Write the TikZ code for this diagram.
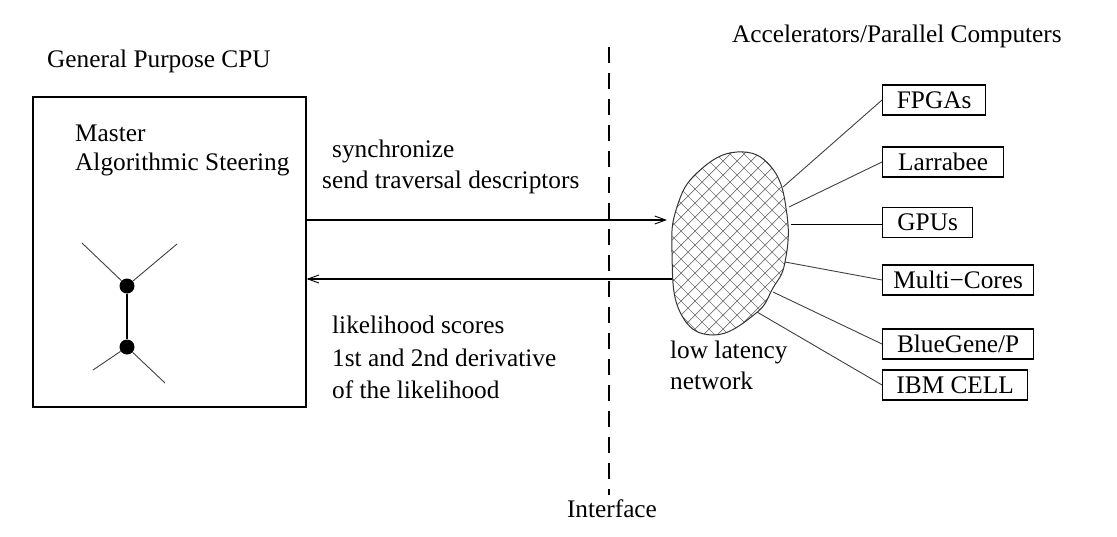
\documentclass[tikz,border=0pt]{standalone}
\usepackage{fontspec}
\setmainfont{Liberation Serif}
\usetikzlibrary{arrows.meta}
\begin{document}
\begin{tikzpicture}[x=1pt,y=-1pt,
  txt/.style={anchor=base west,inner sep=0pt,font=\fontsize{25.3}{30}\selectfont},
  dev/.style={draw,line width=1.3pt,anchor=west,minimum height=30pt,inner sep=0pt,font=\fontsize{25.3}{30}\selectfont},
  conn/.style={line width=0.9pt,draw=black!75},
  arr/.style={line width=1.1pt,-{Straight Barb[length=11pt,width=8pt,line width=0.9pt]}},
  dot/.style={circle,fill=black,inner sep=0pt,minimum size=15pt},
  hatch/.style={line width=0.7pt,draw=black!55}]
\useasboundingbox (0,0) rectangle (1117,536);

% CPU box
\node[draw,line width=1.3pt,minimum width=273pt,minimum height=310pt,inner sep=0pt] (cpu) at (169.5,252) {};
\node[txt] (gpc) at (47,67) {General Purpose CPU};
\node[txt] (master) at (75,141) {Master};
\node[txt] (steer) at (75,170) {Algorithmic Steering};

% tree
\node[dot] (n1) at (127,286) {};
\node[dot] (n2) at (127,347) {};
\coordinate (ta) at (82,243);
\coordinate (tb) at (177,244);
\coordinate (tc) at (93,370);
\coordinate (td) at (165,383);
\draw[line width=1.3pt] (n1) -- (n2);
\draw[conn] (n1) -- (ta);
\draw[conn] (n1) -- (tb);
\draw[conn] (n2) -- (tc);
\draw[conn] (n2) -- (td);

% interface
\coordinate (itop) at (609,47);
\coordinate (ibot) at (609,495);
\draw[line width=1.1pt,dash pattern=on 16pt off 10pt] (itop) -- (ibot);
\node[anchor=base,inner sep=0pt,font=\fontsize{25.3}{30}\selectfont] (iface) at (612,517) {Interface};

% blob network
\def\blob{plot[smooth cycle,tension=0.75] coordinates {(737,152) (772,168) (787,215) (785,262) (773,288) (755,314) (713,335) (680,312) (672,252) (677,207) (698,172)}}
\begin{scope}
  \clip \blob;
  \foreach \c in {310,324,...,660} {\draw[hatch] (\c+100,100) -- (\c+380,380);}
  \foreach \c in {800,814,...,1150} {\draw[hatch] (\c-100,100) -- (\c-380,380);}
\end{scope}
\draw[line width=1pt,draw=black!80] \blob;
\coordinate (in1) at (667,220);
\coordinate (out1) at (672,279);
\coordinate (b1) at (783,187);
\coordinate (b2) at (789,207);
\coordinate (b3) at (791,224);
\coordinate (b4) at (785,262);
\coordinate (b5) at (773,292);
\coordinate (b6) at (757,312);
\node[txt] (low) at (670,358) {low latency};
\node[txt] (net) at (670,389) {network};

% arrows and labels
\draw[arr] (cpu.east |- in1) -- (in1);
\draw[arr] (out1) -- (cpu.east |- out1);
\node[txt] (sync) at (332,157) {synchronize};
\node[txt] (send) at (322,188) {send traversal descriptors};
\node[txt] (lik) at (332,333) {likelihood scores};
\node[txt] (deriv) at (332,366) {1st and 2nd derivative};
\node[txt] (ofl) at (332,398) {of the likelihood};

% accelerators
\node[txt] (acc) at (732,42) {Accelerators/Parallel Computers};
\node[dev,minimum width=103pt] (fpga) at (882,100) {FPGAs};
\node[dev,minimum width=121pt] (larr) at (882,162) {Larrabee};
\node[dev,minimum width=90pt] (gpu) at (882,222.5) {GPUs};
\node[dev,minimum width=151pt] (mc) at (882,280) {Multi−Cores};
\node[dev,minimum width=151pt] (bg) at (882,344) {BlueGene/P};
\node[dev,minimum width=145pt] (cell) at (882,385) {IBM CELL};
\draw[conn] (b1) -- (fpga.west);
\draw[conn] (b2) -- (larr.west);
\draw[conn,draw=black] (b3) -- (b3 -| gpu.west);
\draw[conn] (b4) -- (mc.west);
\draw[conn] (b5) -- (bg.west);
\draw[conn] (b6) -- (cell.west);
\end{tikzpicture}
\end{document}
